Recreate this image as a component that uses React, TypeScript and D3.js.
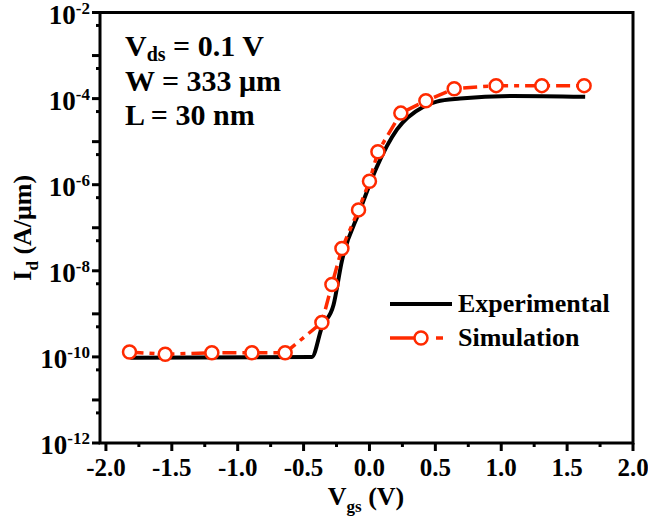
import { useEffect, useRef } from "react";
import * as d3 from "d3";

// Experimental transfer curve (Vgs in V, Id in A/um)
const expVgs = [-1.815, -0.437, -0.361, -0.273, -0.209, -0.071, 0.056, 0.208, 0.41, 0.511, 0.688, 1.09, 1.637];
const expId = [9.5e-11, 1.0e-10, 4.9e-10, 1.6e-9, 1.7e-8, 2.6e-7, 2.6e-6, 1.9e-5, 6.5e-5, 8.5e-5, 1.0e-4, 1.15e-4, 1.1e-4];

// Simulation points
const simVgs = [-1.821, -1.55, -1.196, -0.892, -0.64, -0.361, -0.285, -0.209, -0.083, 0.0, 0.064, 0.238, 0.428, 0.643, 0.961, 1.308, 1.629];
const simId = [1.3e-10, 1.15e-10, 1.25e-10, 1.25e-10, 1.25e-10, 6.3e-10, 4.8e-9, 3.3e-8, 2.6e-7, 1.2e-6, 5.8e-6, 4.6e-5, 8.9e-5, 1.7e-4, 2.0e-4, 2.0e-4, 2.0e-4];

const xTicks = [-2.0, -1.5, -1.0, -0.5, 0.0, 0.5, 1.0, 1.5, 2.0];
const yTickExps = [-2, -4, -6, -8, -10, -12];

const RED = "#ff2a00";
const FONT = "Liberation Serif";

function App() {
  const ref = useRef<SVGSVGElement>(null);

  useEffect(() => {
    const svg = d3.select(ref.current);
    svg.selectAll("*").remove();

    const left = 100, right = 633, top = 12.5, bottom = 443;

    const x = d3.scaleLinear().domain([-2.045, 2.0]).range([left, right]);
    const y = d3.scaleLog().domain([1e-12, 1e-2]).range([bottom, top]);

    const g = svg.append("g").attr("font-family", FONT).attr("font-weight", "bold");

    // frame
    g.append("rect")
      .attr("x", left).attr("y", top)
      .attr("width", right - left).attr("height", bottom - top)
      .attr("fill", "none").attr("stroke", "#000").attr("stroke-width", 3);

    // x ticks
    const xMinor = d3.range(-2.0, 2.001, 0.25);
    xMinor.forEach((v) => {
      const major = Math.abs(v * 2 - Math.round(v * 2)) < 1e-6;
      g.append("line")
        .attr("x1", x(v)).attr("x2", x(v))
        .attr("y1", bottom).attr("y2", bottom + (major ? 8 : 4))
        .attr("stroke", "#000").attr("stroke-width", 3);
    });
    xTicks.forEach((v) => {
      g.append("text")
        .attr("x", x(v)).attr("y", bottom + 33)
        .attr("text-anchor", "middle")
        .attr("font-size", 25)
        .text(v.toFixed(1));
    });

    // y ticks
    for (let e = -12; e <= -2; e++) {
      g.append("line")
        .attr("x1", left).attr("x2", left - 8)
        .attr("y1", y(Math.pow(10, e))).attr("y2", y(Math.pow(10, e)))
        .attr("stroke", "#000").attr("stroke-width", 3);
      if (e < -2) {
        const v = 5 * Math.pow(10, e);
        g.append("line")
          .attr("x1", left).attr("x2", left - 4)
          .attr("y1", y(v)).attr("y2", y(v))
          .attr("stroke", "#000").attr("stroke-width", 3);
      }
    }
    yTickExps.forEach((e) => {
      const t = g.append("text")
        .attr("x", left - 10).attr("y", y(Math.pow(10, e)) + 11)
        .attr("text-anchor", "end")
        .attr("font-size", 27);
      t.append("tspan").text("10");
      t.append("tspan").attr("dy", -10).attr("font-size", 17).text(String(e));
    });

    // axis titles
    const xt = g.append("text")
      .attr("x", 366).attr("y", 505)
      .attr("text-anchor", "middle").attr("font-size", 26);
    xt.append("tspan").text("V");
    xt.append("tspan").attr("dy", 7).attr("font-size", 17).text("gs");
    xt.append("tspan").attr("dy", -7).text(" (V)");

    const yt = g.append("text")
      .attr("transform", `translate(31,${(top + bottom) / 2}) rotate(-90)`)
      .attr("text-anchor", "middle").attr("font-size", 26);
    yt.append("tspan").text("I");
    yt.append("tspan").attr("dy", 7).attr("font-size", 17).text("d");
    yt.append("tspan").attr("dy", -7).text(" (A/\u03bcm)");

    // experimental line
    const expData = expVgs.map((v, i) => [v, expId[i]] as [number, number]);
    const line = d3.line<[number, number]>().x((d) => x(d[0])).y((d) => y(d[1]));
    g.append("path")
      .datum(expData)
      .attr("d", line.curve(d3.curveMonotoneX))
      .attr("fill", "none").attr("stroke", "#000").attr("stroke-width", 4);

    // simulation
    const simData = simVgs.map((v, i) => [v, simId[i]] as [number, number]);
    g.append("path")
      .datum(simData)
      .attr("d", d3.line<[number, number]>().x((d) => x(d[0])).y((d) => y(d[1])))
      .attr("fill", "none").attr("stroke", RED).attr("stroke-width", 3.5)
      .attr("stroke-dasharray", "14,6,5,6");
    g.selectAll("circle.sim")
      .data(simData)
      .join("circle")
      .attr("class", "sim")
      .attr("cx", (d) => x(d[0])).attr("cy", (d) => y(d[1]))
      .attr("r", 6.5)
      .attr("fill", "#fff").attr("stroke", RED).attr("stroke-width", 2.5);

    // legend
    const lg = g.append("g");
    lg.append("line").attr("x1", 390).attr("x2", 452).attr("y1", 304).attr("y2", 304)
      .attr("stroke", "#000").attr("stroke-width", 4);
    lg.append("text").attr("x", 458).attr("y", 312).attr("font-size", 26).text("Experimental");
    lg.append("line").attr("x1", 390).attr("x2", 414).attr("y1", 338).attr("y2", 338)
      .attr("stroke", RED).attr("stroke-width", 3.5);
    lg.append("line").attr("x1", 436).attr("x2", 443).attr("y1", 338).attr("y2", 338)
      .attr("stroke", RED).attr("stroke-width", 3.5);
    lg.append("circle").attr("cx", 421).attr("cy", 338).attr("r", 6.5)
      .attr("fill", "#fff").attr("stroke", RED).attr("stroke-width", 2.5);
    lg.append("text").attr("x", 458).attr("y", 346).attr("font-size", 26).text("Simulation");

    // annotation
    const a1 = g.append("text").attr("x", 125).attr("y", 56).attr("font-size", 30);
    a1.append("tspan").text("V");
    a1.append("tspan").attr("dy", 5).attr("font-size", 20).text("ds");
    a1.append("tspan").attr("dy", -5).text(" = 0.1 V");
    g.append("text").attr("x", 125).attr("y", 91).attr("font-size", 30).text("W = 333 \u03bcm");
    g.append("text").attr("x", 125).attr("y", 125).attr("font-size", 30).text("L = 30 nm");
  }, []);

  return (
    <svg
      ref={ref}
      width={648}
      height={527}
      style={{ position: "absolute", left: 0, top: 0, display: "block" }}
    ></svg>
  );
}

export default App;
